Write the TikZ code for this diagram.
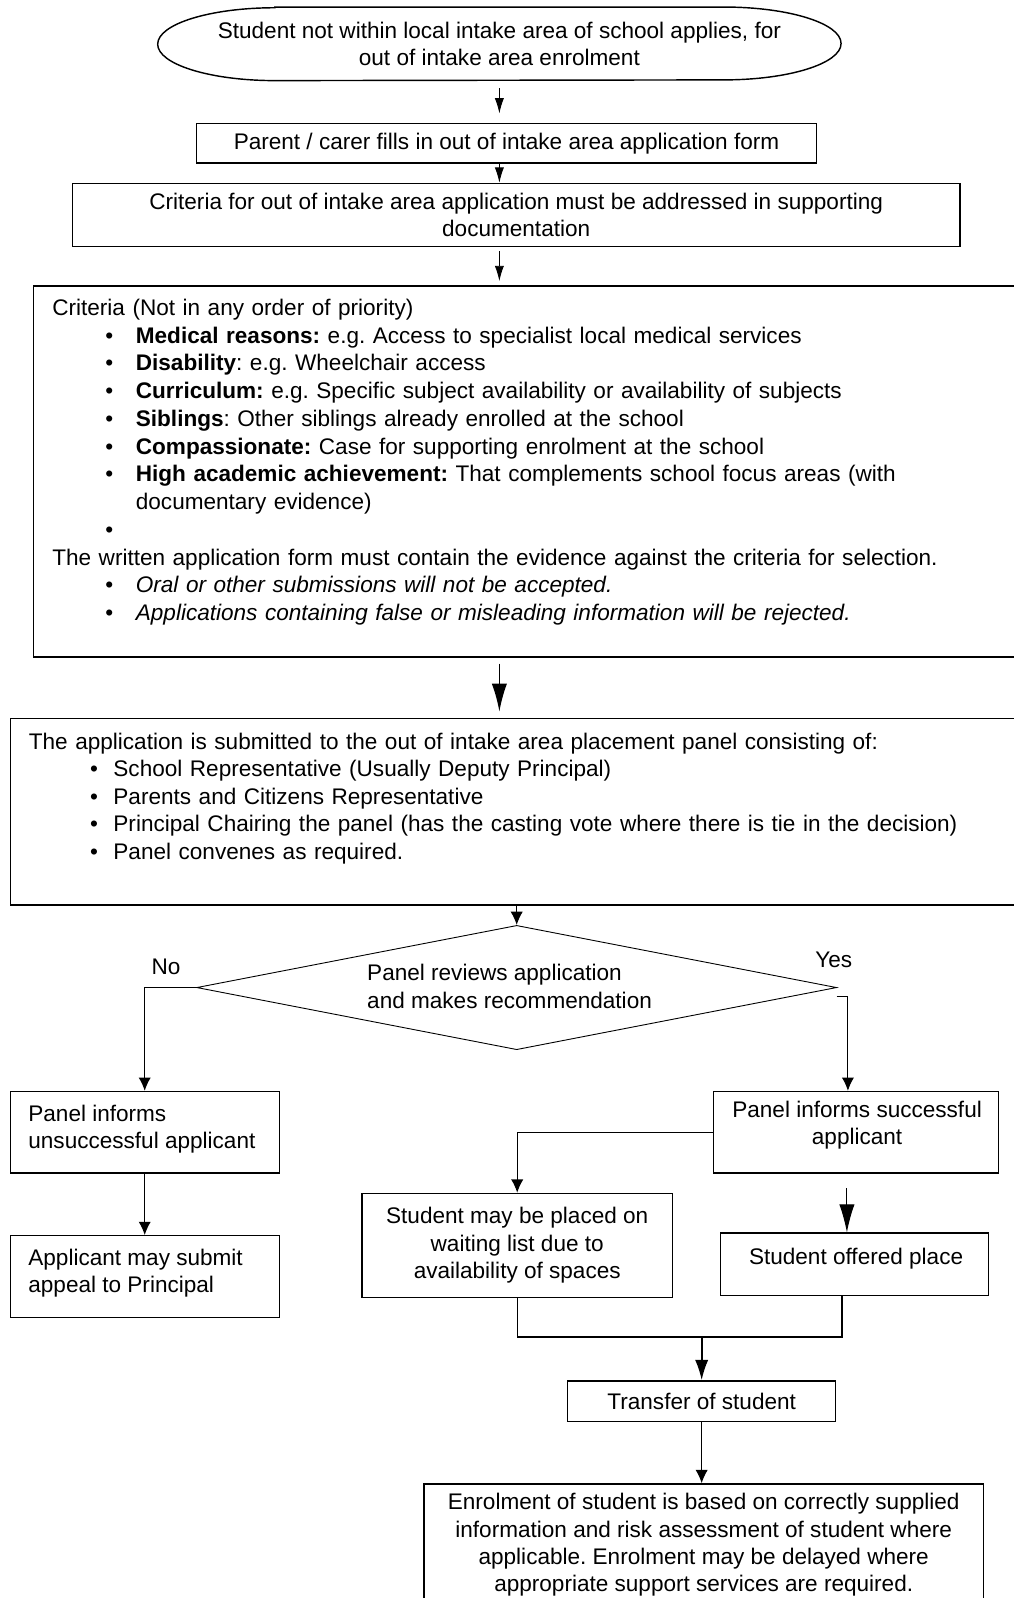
\documentclass[tikz,border=0pt]{standalone}
\usepackage{fontspec}
\setmainfont{Liberation Sans}
\usetikzlibrary{positioning,arrows.meta,shapes.geometric}

\begin{document}
\begin{tikzpicture}[x=0.02cm, y=-0.02cm,
  every node/.style={font=\fontsize{12.6}{15.3}\selectfont},
  box/.style={draw, line width=0.8pt, rectangle, inner sep=0pt},
  txt/.style={inner sep=0pt},
  thinflow/.style={-{Latex[length=3mm,width=1.8mm]}, line width=0.5pt},
  flow/.style={-{Latex[length=2.6mm,width=2.4mm]}, line width=0.6pt},
  bigflow/.style={-{Latex[length=5.5mm,width=3mm]}, line width=0.9pt}]
  \frenchspacing
  \useasboundingbox (0,0) rectangle (994,1568);
  %----- bullets -----
  \def\critem#1{\hangindent=1.64cm\hangafter=1\noindent\hspace*{1.04cm}\makebox[0.6cm][l]{\textbullet}#1\par}
  \def\panitem#1{\noindent\hspace*{1.2cm}\makebox[0.46cm][l]{\textbullet}#1\par}

  %----- top -----
  \node[rectangle, inner sep=0pt, minimum width=13.4cm, minimum height=1.43cm] (start) at (490,43) {};
  % flat ellipse: straight top and bottom, elliptic ends
  \draw[line width=0.8pt] ([xshift=2.3cm]start.north west) -- ([xshift=-2.3cm]start.north east)
    arc[start angle=90, end angle=-90, x radius=2.3cm, y radius=0.715cm]
    -- ([xshift=2.3cm]start.south west)
    arc[start angle=270, end angle=90, x radius=2.3cm, y radius=0.715cm] -- cycle;
  \node[txt, align=center] (starttext) at (490,43) {Student not within local intake area of school applies, for\\out of intake area enrolment};
  \node[box, minimum width=12.16cm, minimum height=0.78cm] (form) at (497,140.5) {Parent / carer fills in out of intake area application form};
  \node[box, minimum width=17.42cm, minimum height=1.24cm, align=center] (crit) at (506.5,211) {Criteria for out of intake area application must be addressed in supporting\\documentation};

  %----- criteria list -----
  \node[box, minimum width=19.26cm, minimum height=7.28cm] (rules) at (514.5,462.5) {};
  \node[txt, anchor=north west, text width=18.8cm, font=\fontsize{12.6}{15.5}\selectfont] (rulestext) at (51,293) {\raggedright
    Criteria (Not in any order of priority)\par
    \critem{\textbf{Medical reasons:} e.g. Access to specialist local medical services}
    \critem{\textbf{Disability}: e.g. Wheelchair access}
    \critem{\textbf{Curriculum:} e.g. Specific subject availability or availability of subjects}
    \critem{\textbf{Siblings}: Other siblings already enrolled at the school}
    \critem{\textbf{Compassionate:} Case for supporting enrolment at the school}
    \critem{\textbf{High academic achievement:} That complements school focus areas (with\newline documentary evidence)}
    \critem{}
    \noindent The written application form must contain the evidence against the criteria for selection.\par
    \critem{\textit{Oral or other submissions will not be accepted.}}
    \critem{\textit{Applications containing false or misleading information will be rejected.}}};

  %----- panel -----
  \node[box, minimum width=19.72cm, minimum height=3.66cm] (panel) at (503,796.5) {};
  \node[txt, anchor=north west, text width=19.2cm] (paneltext) at (28,719) {\raggedright
    \noindent The application is submitted to the out of intake area placement panel consisting of:\par
    \panitem{School Representative (Usually Deputy Principal)}
    \panitem{Parents and Citizens Representative}
    \panitem{Principal Chairing the panel (has the casting vote where there is tie in the decision)}
    \panitem{Panel convenes as required.}};

  %----- decision -----
  \node[draw, diamond, line width=0.5pt, minimum width=12.56cm, minimum height=2.44cm, inner sep=0pt] (review) at (507,969) {};
  \node[txt, align=left] (reviewtext) at (500,968) {Panel reviews application\\and makes recommendation};
  \node[txt] (no) at (163,949) {No};
  \node[txt] (yes) at (818,942) {Yes};

  %----- outcomes -----
  \node[box, minimum width=5.28cm, minimum height=1.6cm] (unsucc) at (142,1111) {};
  \node[txt, anchor=north west, align=left] (unsucctext) at (27.5,1084) {Panel informs\\unsuccessful applicant};
  \node[box, minimum width=5.28cm, minimum height=1.6cm] (appeal) at (142,1252.5) {};
  \node[txt, anchor=north west, align=left] (appealtext) at (27.5,1225) {Applicant may submit\\appeal to Principal};
  \node[box, minimum width=5.6cm, minimum height=1.6cm] (succ) at (840,1111) {};
  \node[txt, align=center] (succtext) at (841,1104) {Panel informs successful\\applicant};
  \node[box, minimum width=6.1cm, minimum height=2.04cm, align=center] (waiting) at (507.5,1222) {Student may be placed on\\waiting list due to\\availability of spaces};
  \node[box, minimum width=5.26cm, minimum height=1.22cm] (offered) at (838.5,1240.5) {};
  \node[txt] (offeredtext) at (840,1235) {Student offered place};
  \node[box, minimum width=5.26cm, minimum height=0.8cm] (transfer) at (688.5,1375) {Transfer of student};
  \node[box, minimum width=10.98cm, minimum height=2.32cm] (enrol) at (690.5,1514) {};
  \node[txt, align=center] (enroltext) at (690.5,1516) {Enrolment of student is based on correctly supplied\\information and risk assessment of student where\\applicable. Enrolment may be delayed where\\appropriate support services are required.};

  %----- connectors -----
  \draw[thinflow, shorten <=0.15cm, shorten >=0.18cm] (start.south) -- (start.south |- form.north);
  \draw[thinflow] (form.south -| start.south) -- (crit.north -| start.south);
  \draw[thinflow, shorten <=0.08cm, shorten >=0.08cm] (crit.south -| start.south) -- (rules.north -| start.south);
  \draw[bigflow, shorten <=0.12cm, shorten >=0.12cm] (rules.south -| start.south) -- (panel.north -| start.south);
  \draw[flow] (review.north |- panel.south) -- (review.north);
  \draw[flow] (review.west) -| (unsucc.north);
  \coordinate (yesstart) at (821,978);
  \draw[flow] (yesstart) -| ([xshift=-0.16cm]succ.north);
  \draw[flow] (unsucc) -- (appeal);
  \draw[flow] (succ.west) -| (waiting.north);
  \draw[bigflow, line width=0.6pt, shorten <=0.28cm] ([xshift=-0.18cm]succ.south) -- ([xshift=-0.18cm]succ.south |- offered.north);
  \coordinate (merge) at (688.5,1312);
  \draw[line width=0.8pt] (waiting.south) |- ([xshift=-0.25cm]offered.south |- merge) -- ([xshift=-0.25cm]offered.south);
  \draw[-{Latex[length=4mm,width=2.6mm]}, line width=1pt] (merge) -- (transfer.north);
  \draw[flow] (transfer.south) -- (transfer.south |- enrol.north);
\end{tikzpicture}
\end{document}
